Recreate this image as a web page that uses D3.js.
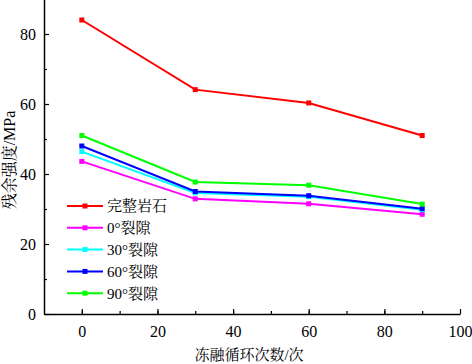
<!DOCTYPE html>
<html>
<head>
<meta charset="utf-8">
<script src="https://cdn.jsdelivr.net/npm/d3@7"></script>
<style>
  body { margin: 0; background: #fff; }
  svg text { font-family: "Liberation Serif", "Times New Roman", "Noto Serif CJK SC", "Noto Sans CJK SC", serif; }
</style>
</head>
<body>
<svg width="472" height="364"></svg>
<script>
const cycles = [0, 30, 60, 90];
const seriesNames = ['完整岩石', '0°裂隙', '30°裂隙', '60°裂隙', '90°裂隙'];
const intact = [84.0, 64.1, 60.3, 51.0];
const crack0 = [43.6, 32.9, 31.5, 28.5];
const crack30 = [46.4, 34.6, 33.5, 29.8];
const crack60 = [48.0, 35.0, 33.8, 30.1];
const crack90 = [51.0, 37.7, 36.8, 31.4];
const seriesColors = ['#ff0000', '#ff00ff', '#00ffff', '#0000ff', '#00ff00'];
const xTicks = [0, 20, 40, 60, 80, 100];
const yTicks = [0, 20, 40, 60, 80];

function whenLoaded(){
    const svg = d3.select('svg');
    const series = [intact, crack0, crack30, crack60, crack90].map((vals, i) => ({
        name: seriesNames[i], color: seriesColors[i],
        points: vals.map((v, j) => ({x: cycles[j], y: v}))
    }));

    const xScale = d3.scaleLinear().domain([-10, 100]).range([44, 460]);
    const yScale = d3.scaleLinear().domain([0, 90]).range([314, -1]);

    // minor ticks
    const xAxisMinor = d3.axisBottom(xScale).tickValues(d3.range(0, 100, 10)).tickSize(-3).tickFormat('');
    const yAxisMinor = d3.axisLeft(yScale).tickValues(d3.range(10, 90, 20)).tickSize(-3).tickFormat('');
    svg.append('g').attr('transform', 'translate(0,314)').call(xAxisMinor)
        .call(g => g.selectAll('.domain').remove())
        .selectAll('line').attr('stroke-width', 1.2);
    svg.append('g').attr('transform', 'translate(44,0)').call(yAxisMinor)
        .call(g => g.selectAll('.domain').remove())
        .selectAll('line').attr('stroke-width', 1.2);

    const xAxis = d3.axisBottom(xScale).tickValues(xTicks).tickSize(-5).tickPadding(12).tickSizeOuter(0);
    const yAxis = d3.axisLeft(yScale).tickValues(yTicks).tickSize(-5).tickPadding(8).tickSizeOuter(0);

    const xAxisG = svg.append('g').attr('transform', 'translate(0,314)').call(xAxis);
    const yAxisG = svg.append('g').attr('transform', 'translate(44,0)').call(yAxis);
    [xAxisG, yAxisG].forEach(g => {
        g.select('.domain').attr('stroke-width', 1.5);
        g.selectAll('.tick line').attr('stroke-width', 1.2);
        g.selectAll('text').attr('font-size', 16).attr('fill', '#000')
            .style('font-family', '"Liberation Serif", serif');
    });
    yAxisG.selectAll('text').attr('dy', '0.35em');

    svg.append('text')
        .attr('x', 249).attr('y', 360)
        .attr('text-anchor', 'middle').attr('font-size', 15)
        .text('冻融循环次数/次');

    svg.append('text')
        .attr('transform', 'translate(14.5,160) rotate(-90)')
        .attr('text-anchor', 'middle').attr('font-size', 16)
        .text('残余强度/MPa');

    const line = d3.line().x(d => xScale(d.x)).y(d => yScale(d.y));

    series.forEach(s => {
        svg.append('path').datum(s.points)
            .attr('fill', 'none').attr('stroke', s.color).attr('stroke-width', 2)
            .attr('d', line);
        svg.selectAll(null).data(s.points).enter().append('rect')
            .attr('x', d => xScale(d.x) - 2.5).attr('y', d => yScale(d.y) - 2.5)
            .attr('width', 5).attr('height', 5).attr('fill', s.color);
    });

    // legend
    const legend = svg.append('g');
    series.forEach((s, i) => {
        const y = 206 + i * 21.8;
        legend.append('line').attr('x1', 67).attr('x2', 103).attr('y1', y).attr('y2', y)
            .attr('stroke', s.color).attr('stroke-width', 2);
        legend.append('rect').attr('x', 82.5).attr('y', y - 2.5).attr('width', 5).attr('height', 5)
            .attr('fill', s.color);
        legend.append('text').attr('x', 107).attr('y', y).attr('dy', '0.36em')
            .attr('font-size', 15).text(s.name);
    });
}

window.onload = whenLoaded;
</script>
</body>
</html>
